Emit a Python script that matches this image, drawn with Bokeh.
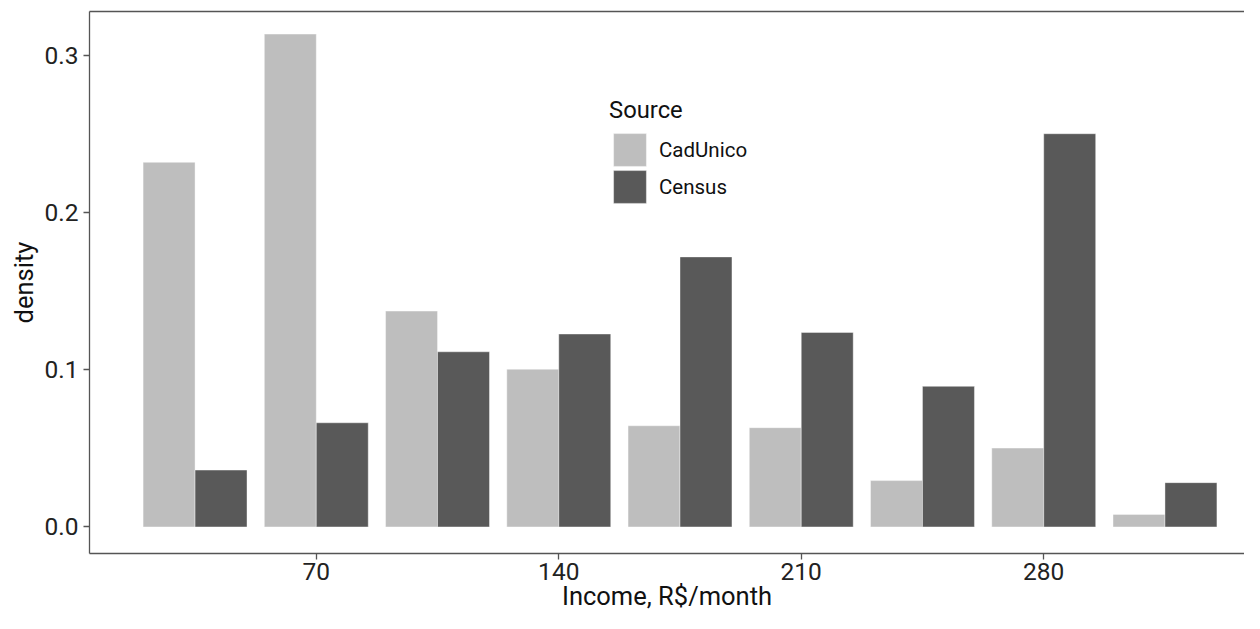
from bokeh.plotting import figure
from bokeh.models import (ColumnDataSource, FixedTicker, LinearAxis, Legend,
                          LegendItem, Range1d, PrintfTickFormatter)
from bokeh.transform import dodge
from bokeh.embed import file_html
from bokeh.resources import INLINE

# ---- data ----
bin_centers = [35, 70, 105, 140, 175, 210, 245, 280, 315]
cadunico = [0.2321, 0.3137, 0.1374, 0.1004, 0.0644, 0.0632, 0.0295, 0.0502, 0.0080]
census = [0.0362, 0.0663, 0.1115, 0.1228, 0.1719, 0.1238, 0.0895, 0.2503, 0.0282]
series_names = ["CadUnico", "Census"]
x_ticks = [70, 140, 210, 280]
y_ticks = [0.0, 0.1, 0.2, 0.3]
x_title = "Income, R$/month"
y_title = "density"
legend_title = "Source"

# ---- style ----
LIGHT = "#BEBEBE"
DARK = "#595959"
AXIS_COL = "#555555"
FONT = "Roboto"
BAR_W = 15

src = ColumnDataSource(dict(x=bin_centers, cad=cadunico, cen=census))

p = figure(width=1244, height=613, output_backend="svg", toolbar_location=None,
           x_range=Range1d(4.53, 337.96), y_range=Range1d(-0.0169, 0.3281),
           min_border_left=89, min_border_right=0, min_border_top=11,
           min_border_bottom=0)
p.outline_line_color = None
p.outline_line_alpha = 0
p.border_fill_color = "white"
p.xgrid.visible = False
p.ygrid.visible = False
p.background_fill_color = "white"

r1 = p.vbar(x=dodge("x", -BAR_W / 2, range=p.x_range), top="cad", bottom=0,
            width=BAR_W, source=src, fill_color=LIGHT, line_color="white",
            line_alpha=0.4, line_width=1)
r2 = p.vbar(x=dodge("x", BAR_W / 2, range=p.x_range), top="cen", bottom=0,
            width=BAR_W, source=src, fill_color=DARK, line_color="white",
            line_alpha=0.4, line_width=1)

for ax in (p.xaxis[0], p.yaxis[0]):
    ax.axis_line_color = AXIS_COL
    ax.axis_line_width = 1.3
    ax.major_tick_line_color = AXIS_COL
    ax.major_tick_line_width = 1.3
    ax.major_tick_out = 6
    ax.major_tick_in = 0
    ax.minor_tick_out = 0
    ax.minor_tick_in = 0
    ax.major_label_text_font = FONT
    ax.major_label_text_font_size = "24.5px"
    ax.major_label_text_color = "#222222"
    ax.axis_label_text_font = FONT
    ax.axis_label_text_font_size = "25.5px"
    ax.axis_label_text_font_style = "normal"
    ax.axis_label_text_color = "#111111"

p.xaxis[0].ticker = FixedTicker(ticks=x_ticks)
p.yaxis[0].ticker = FixedTicker(ticks=y_ticks)
p.yaxis[0].formatter = PrintfTickFormatter(format="%.1f")
p.xaxis[0].axis_label = x_title
p.yaxis[0].axis_label = y_title
p.xaxis[0].major_label_standoff = 3
p.xaxis[0].axis_label_standoff = -2
p.yaxis[0].major_label_standoff = 5
p.yaxis[0].axis_label_standoff = 3

top_axis = LinearAxis(ticker=FixedTicker(ticks=[]), major_tick_out=0,
                      major_tick_in=0, minor_tick_out=0, minor_tick_in=0,
                      major_label_text_font_size="0px", major_label_standoff=0,
                      axis_line_color=AXIS_COL, axis_line_width=1.3)
p.add_layout(top_axis, "above")

common = dict(glyph_width=41, glyph_height=41, label_standoff=9,
              padding=0, margin=0, border_line_color=None,
              background_fill_alpha=0,
              label_text_font=FONT, label_text_font_size="20.5px",
              label_text_color="#111111")

legend1 = Legend(items=[LegendItem(label=series_names[0], renderers=[r1])],
                 title=legend_title, location=(520, 383),
                 title_text_font=FONT, title_text_font_size="23.8px",
                 title_text_font_style="normal", title_text_color="#111111",
                 title_standoff=5, **common)
legend2 = Legend(items=[LegendItem(label=series_names[1], renderers=[r2])],
                 location=(520, 346), **common)
p.add_layout(legend1)
p.add_layout(legend2)

open("out.html", "w").write(file_html(p, INLINE))
